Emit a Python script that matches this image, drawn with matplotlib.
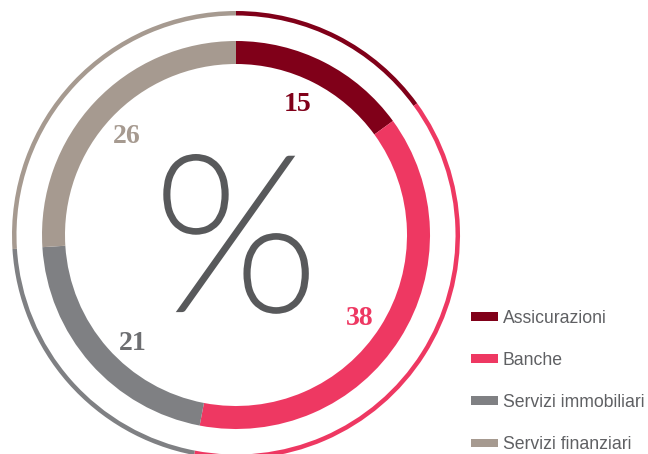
import matplotlib
matplotlib.use('Agg')
import matplotlib.pyplot as plt
import matplotlib.patheffects as pe

# quote per settore (%)
settori = ['Assicurazioni', 'Banche', 'Servizi immobiliari', 'Servizi finanziari']
quote = [15, 38, 21, 26]
colori = ['#800019', '#ee3862', '#7f8083', '#a69a90']
colori_etichette = ['#800019', '#ee3862', '#6d6e71', '#a69a90']

fig = plt.figure(figsize=(6.48, 4.54), dpi=100)
ax = fig.add_axes([0, 0, 1, 1])

centro = (236, 219)

# anello interno (spesso) con le etichette dei valori
wedges, _, pct = ax.pie(
    quote, colors=colori, startangle=90, counterclock=False,
    center=centro, radius=194, autopct=lambda p: f'{p:.0f}',
    pctdistance=0.755, wedgeprops=dict(width=23, linewidth=0),
    textprops=dict(family='Liberation Serif', weight='bold', fontsize=20))

# piccoli spostamenti delle etichette
spost = [(-5, 0), (0, -5), (7, -12), (-2, -2)]
for t, c, (dx, dy) in zip(pct, colori_etichette, spost):
    t.set_color(c)
    x, y = t.get_position()
    t.set_position((x + dx, y + dy))

# anello esterno sottile
ax.pie(quote, colors=colori, startangle=90, counterclock=False,
       center=centro, radius=224, wedgeprops=dict(width=4.5, linewidth=0))

simbolo = ax.text(centro[0], centro[1] - 16, '%', ha='center', va='center',
                  fontsize=156, family='Lato', fontweight='light', color='#58595b')
simbolo.set_path_effects([pe.withStroke(linewidth=3.4, foreground='#58595b',
                                        capstyle='butt', joinstyle='miter')])

ax.set_xlim(0, 648)
ax.set_ylim(0, 454)
ax.set_aspect('equal')
ax.axis('off')

leg = ax.legend(wedges, settori, loc='upper left', bbox_to_anchor=(462, 153),
                bbox_transform=ax.transData, frameon=False, borderpad=0,
                handlelength=1.53, handleheight=0.34,
                handletextpad=0.28, labelspacing=1.42,
                prop=dict(family='Liberation Sans', size=12.7))
for t in leg.get_texts():
    t.set_color('#5f6063')

fig.savefig('out.png', dpi=100)
